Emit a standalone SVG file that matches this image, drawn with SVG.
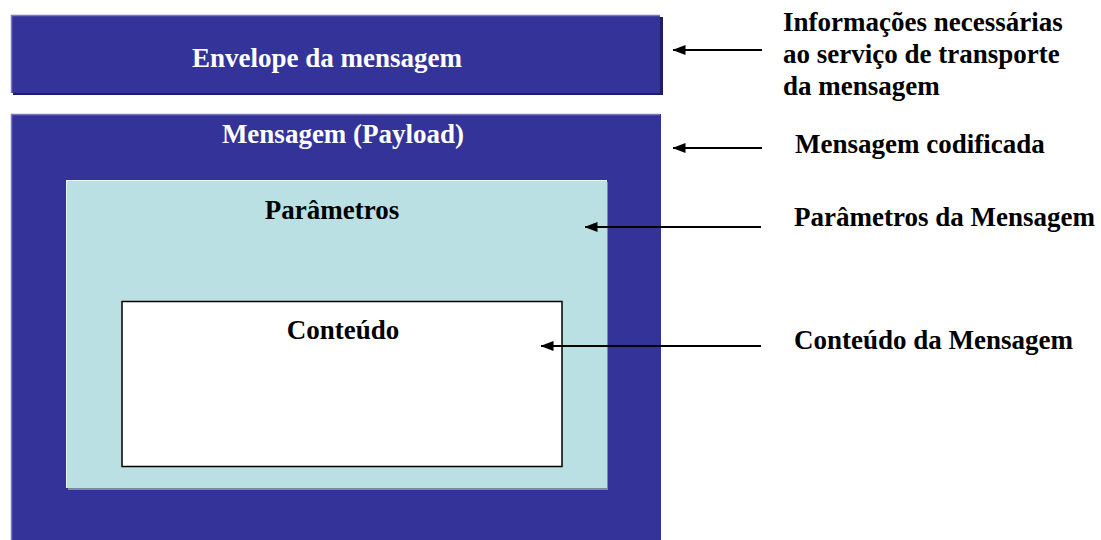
<svg xmlns="http://www.w3.org/2000/svg" width="1101" height="540" viewBox="0 0 1101 540">
<defs>
<style>
.t{font-family:"Liberation Serif","Times New Roman",serif;font-weight:bold;font-size:27px}
.w{fill:#ffffff}
.b{fill:#000000}
.c{stroke:#000;stroke-width:2;fill:none}
</style>
<marker id="ah" viewBox="0 0 13 10" refX="12.5" refY="5" markerWidth="13" markerHeight="10" markerUnits="userSpaceOnUse" orient="auto">
<path d="M0,0 L13,5 L0,10 Z" fill="#000"/>
</marker>
</defs>
<rect width="1101" height="540" fill="#fff"/>
<g id="envelope">
<rect x="13" y="17" width="650" height="78" fill="#1e1e66"/>
<rect x="11" y="15" width="649" height="78" fill="#333399"/>
<path d="M11.5,93 V15.5 H660" stroke="#7a7ac0" stroke-width="1.5" fill="none"/>
<text class="t w" x="327" y="67" text-anchor="middle">Envelope da mensagem</text>
</g>
<g id="payload">
<rect x="11" y="114" width="650" height="430" fill="#333399"/>
<path d="M11.5,540 V114.5 H660" stroke="#7a7ac0" stroke-width="1.5" fill="none"/>
<text class="t w" x="343" y="143" text-anchor="middle">Mensagem (Payload)</text>
</g>
<g id="parametros">
<rect x="68" y="182" width="540" height="308" fill="#7a8a9a"/>
<rect x="66" y="180" width="541" height="308" fill="#bae0e4"/>
<path d="M66.5,488 V180.5 H607" stroke="#e6f6f8" stroke-width="1" fill="none"/>
<text class="t b" x="332" y="219" text-anchor="middle">Parâmetros</text>
</g>
<g id="conteudo">
<rect x="122" y="301.5" width="440" height="165" fill="#fff" stroke="#000" stroke-width="1.5"/>
<text class="t b" x="343" y="339" text-anchor="middle">Conteúdo</text>
</g>
<g id="connectors">
<line class="c" x1="762" y1="50" x2="673" y2="50" marker-end="url(#ah)"/>
<line class="c" x1="762" y1="148" x2="673" y2="148" marker-end="url(#ah)"/>
<line class="c" x1="761" y1="227" x2="585" y2="227" marker-end="url(#ah)"/>
<line class="c" x1="761" y1="346" x2="541" y2="346" marker-end="url(#ah)"/>
</g>
<g id="labels">
<text class="t b" x="783" y="31">Informações necessárias</text>
<text class="t b" x="783" y="63">ao serviço de transporte</text>
<text class="t b" x="783" y="95">da mensagem</text>
<text class="t b" x="795" y="153">Mensagem codificada</text>
<text class="t b" x="794" y="226">Parâmetros da Mensagem</text>
<text class="t b" x="794" y="349">Conteúdo da Mensagem</text>
</g>
</svg>
